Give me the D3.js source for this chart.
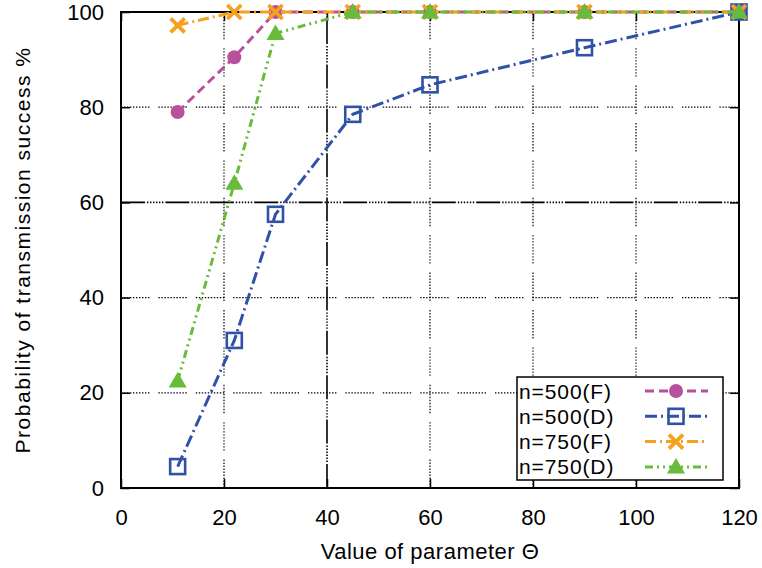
<!DOCTYPE html>
<html>
<head>
<meta charset="utf-8">
<script src="https://cdn.jsdelivr.net/npm/d3@7"></script>
<style>
  html, body { margin: 0; padding: 0; background: #fff; }
  svg { display: block; }
  text { font-family: "Liberation Sans", Arial, sans-serif; fill: #000; }
</style>
</head>
<body>
<svg id="chart" width="762" height="568"></svg>
<script>
// ---- data ----
const thetaValues = [11, 22, 30, 45, 60, 90, 120];
const n500F = [79, 90.5, 100, 100, 100, 100, 100];
const n500D = [4.5, 31, 57.5, 78.5, 84.7, 92.5, 100];
const n750F = [97.2, 100, 100, 100, 100, 100, 100];
const n750D = [22.5, 64, 95.5, 100, 100, 100, 100];
const seriesNames = ["n=500(F)", "n=500(D)", "n=750(F)", "n=750(D)"];
const xTicks = [0, 20, 40, 60, 80, 100, 120];
const yTicks = [0, 20, 40, 60, 80, 100];
const xLabel = "Value of parameter \u0398";
const yLabel = "Probability of transmission success %";

// ---- styles ----
const colors = ["#b8509e", "#2f52a8", "#f5a01f", "#69bb3b"];
const dashes = ["9,5", "12,4,2,4", "11,4,2,4", "8,4,2,4,2,4"];
const symbols = ["circle", "square", "cross", "triangle"];

const svg = d3.select("#chart");
const x = d3.scaleLinear().domain([0, 120]).range([121, 739]);
const y = d3.scaleLinear().domain([0, 100]).range([488, 12]);

const dots = n => Array(n).fill("1.4,1.6").join(",");
const gridDash = dots(9) + ",1.4,9";
const gridDashDark = "24,2," + dots(5) + ",1.4,2";

// grid
const g = svg.append("g");
xTicks.filter(t => t > 0 && t < 120).forEach(t => {
  g.append("line").attr("x1", x(t)).attr("x2", x(t)).attr("y1", y(0)).attr("y2", y(100))
    .attr("stroke", "#000").attr("stroke-width", t === 40 ? 1.6 : 1.2)
    .attr("stroke-dasharray", t === 40 ? gridDashDark : gridDash);
});
yTicks.filter(t => t > 0 && t < 100).forEach(t => {
  g.append("line").attr("x1", x(0)).attr("x2", x(120)).attr("y1", y(t)).attr("y2", y(t))
    .attr("stroke", "#000").attr("stroke-width", t === 60 ? 1.6 : 1.2)
    .attr("stroke-dasharray", t === 60 ? gridDashDark : gridDash);
});

// axes (ticks inward, mirrored)
const tickLen = 9;
svg.append("g").attr("transform", `translate(0,${y(0)})`)
  .call(d3.axisBottom(x).tickValues(xTicks).tickSize(-tickLen).tickPadding(tickLen + 12).tickSizeOuter(0))
  .call(a => a.select(".domain").remove())
  .call(a => a.selectAll("line").attr("stroke-width", 1.5))
  .call(a => a.selectAll("text").attr("font-size", 22).attr("font-family", "Liberation Sans, Arial, sans-serif"));
svg.append("g").attr("transform", `translate(0,${y(100)})`)
  .call(d3.axisTop(x).tickValues(xTicks).tickSize(-tickLen).tickFormat("").tickSizeOuter(0))
  .call(a => a.select(".domain").remove())
  .call(a => a.selectAll("line").attr("stroke-width", 1.5));
svg.append("g").attr("transform", `translate(${x(0)},0)`)
  .call(d3.axisLeft(y).tickValues(yTicks).tickSize(-tickLen).tickPadding(tickLen + 8).tickSizeOuter(0))
  .call(a => a.select(".domain").remove())
  .call(a => a.selectAll("line").attr("stroke-width", 1.5))
  .call(a => a.selectAll("text").attr("font-size", 22).attr("font-family", "Liberation Sans, Arial, sans-serif"));
svg.append("g").attr("transform", `translate(${x(120)},0)`)
  .call(d3.axisRight(y).tickValues(yTicks).tickSize(-tickLen).tickFormat("").tickSizeOuter(0))
  .call(a => a.select(".domain").remove())
  .call(a => a.selectAll("line").attr("stroke-width", 1.5));

// border
svg.append("rect").attr("x", x(0)).attr("y", y(100))
  .attr("width", x(120) - x(0)).attr("height", y(0) - y(100))
  .attr("fill", "none").attr("stroke", "#000").attr("stroke-width", 2);

// marker drawing
function drawMarker(sel, kind, cx, cy, color) {
  if (kind === "circle") {
    sel.append("circle").attr("cx", cx).attr("cy", cy).attr("r", 7).attr("fill", color);
  } else if (kind === "square") {
    sel.append("rect").attr("x", cx - 7.5).attr("y", cy - 7.5).attr("width", 15).attr("height", 15)
      .attr("fill", "none").attr("stroke", color).attr("stroke-width", 2.6);
  } else if (kind === "cross") {
    const s = 7;
    sel.append("path").attr("d", `M${cx - s},${cy - s}L${cx + s},${cy + s}M${cx - s},${cy + s}L${cx + s},${cy - s}`)
      .attr("stroke", color).attr("stroke-width", 3.8).attr("fill", "none");
  } else {
    const s = 9;
    sel.append("path").attr("d", `M${cx},${cy - s}L${cx + s},${cy + s * 0.72}L${cx - s},${cy + s * 0.72}Z`)
      .attr("fill", color);
  }
}

// series
const allSeries = [n500F, n500D, n750F, n750D];
const line = d3.line().x(d => x(d[0])).y(d => y(d[1]));
allSeries.forEach((vals, i) => {
  const pts = thetaValues.map((t, j) => [t, vals[j]]);
  const sg = svg.append("g");
  sg.append("path").attr("d", line(pts)).attr("fill", "none")
    .attr("stroke", colors[i]).attr("stroke-width", 3).attr("stroke-dasharray", dashes[i]);
  pts.forEach(p => drawMarker(sg, symbols[i], x(p[0]), y(p[1]), colors[i]));
});

// legend
const lg = svg.append("g");
lg.append("rect").attr("x", 517).attr("y", 377).attr("width", 206).attr("height", 103)
  .attr("fill", "#fff").attr("stroke", "#000").attr("stroke-width", 1.5);
seriesNames.forEach((name, i) => {
  const cy = 391 + i * 25.3;
  lg.append("text").attr("x", 519).attr("y", cy + 7.5).attr("font-size", 21)
    .attr("letter-spacing", 0.9).text(name);
  lg.append("line").attr("x1", 645).attr("x2", 708).attr("y1", cy).attr("y2", cy)
    .attr("stroke", colors[i]).attr("stroke-width", 3).attr("stroke-dasharray", dashes[i]);
  drawMarker(lg, symbols[i], 676, cy, colors[i]);
});

// axis labels
svg.append("text").attr("x", 430).attr("y", 559).attr("text-anchor", "middle")
  .attr("font-size", 22).attr("letter-spacing", 0.5).text(xLabel);
svg.append("text").attr("transform", "translate(30,250) rotate(-90)").attr("text-anchor", "middle")
  .attr("font-size", 21).attr("letter-spacing", 1.5).text(yLabel);
</script>
</body>
</html>
